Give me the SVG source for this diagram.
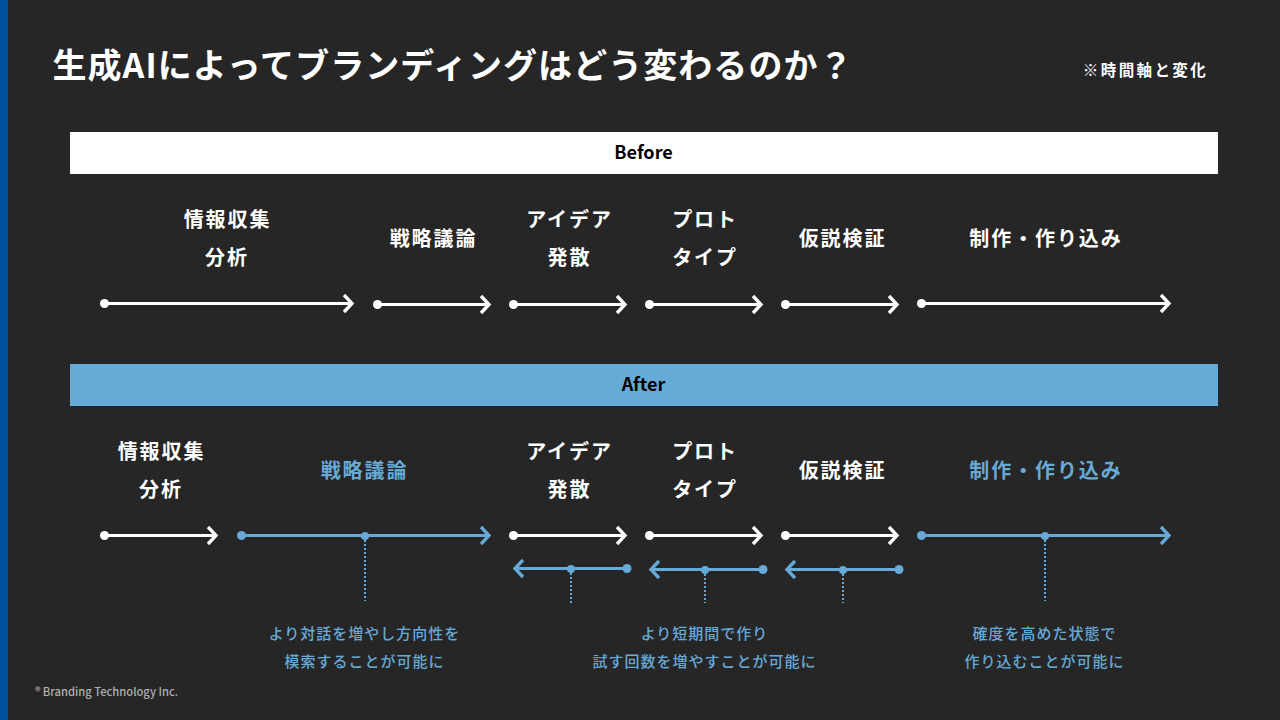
<svg xmlns="http://www.w3.org/2000/svg" width="1280" height="720" viewBox="0 0 1280 720">
<style>
text{font-family:"Noto Sans CJK JP","Noto Sans",sans-serif;text-anchor:middle;dominant-baseline:central}
.t{fill:#fff;font-size:20px;font-weight:700;letter-spacing:1.9px}
.t.b{fill:#66aad8}
.s{fill:#66aad8;font-size:15px;font-weight:500;letter-spacing:1px}
.h{font-size:18px;font-weight:700;fill:#000}
.w{fill:none;stroke:#fff;stroke-width:3;marker-start:url(#dw);marker-end:url(#aw)}
.l{fill:none;stroke:#66aad8;stroke-width:3;marker-start:url(#dl);marker-end:url(#al)}
.d{fill:none;stroke:#66aad8;stroke-width:2;stroke-dasharray:2 2}
.m{fill:#66aad8}
</style>
<defs>
<marker id="dw" markerUnits="userSpaceOnUse" markerWidth="12" markerHeight="12" refX="6" refY="6"><circle cx="6" cy="6" r="4.500" fill="#fff"/></marker>
<marker id="dl" markerUnits="userSpaceOnUse" markerWidth="12" markerHeight="12" refX="6" refY="6"><circle cx="6" cy="6" r="4.500" fill="#66aad8"/></marker>
<marker id="aw" markerUnits="userSpaceOnUse" markerWidth="20" markerHeight="24" refX="14" refY="12" orient="auto"><path d="M6 3.500L14 12L6 20.500" fill="none" stroke="#fff" stroke-width="3.300"/></marker>
<marker id="al" markerUnits="userSpaceOnUse" markerWidth="20" markerHeight="24" refX="14" refY="12" orient="auto"><path d="M6 3.500L14 12L6 20.500" fill="none" stroke="#66aad8" stroke-width="3.300"/></marker>
</defs>
<rect width="1280" height="720" fill="#262626"/>
<rect width="8" height="720" fill="#0050a0"/>
<g id="title"><text x="453" y="63.500" style="font-size:34px;font-weight:700;letter-spacing:1.05px" fill="#fff">生成AIによってブランディングはどう変わるのか？</text>
<text x="1145.500" y="69" style="font-size:15.500px;font-weight:700;letter-spacing:2.400px" fill="#fff">※時間軸と変化</text></g>
<g id="before-bar"><rect x="70" y="132" width="1148" height="42" fill="#fff"/><text class="h" x="643.500" y="151">Before</text></g>
<g id="after-bar"><rect x="70" y="364" width="1148" height="42" fill="#66aad8"/><text class="h" x="643.500" y="383">After</text></g>
<g id="before-labels">
<text class="t" x="227.500" y="218">情報収集</text><text class="t" x="227" y="256">分析</text>
<text class="t" x="433.500" y="237">戦略議論</text>
<text class="t" x="569.500" y="218">アイデア</text><text class="t" x="569.500" y="256">発散</text>
<text class="t" x="705" y="218">プロト</text><text class="t" x="705" y="256">タイプ</text>
<text class="t" x="842.500" y="237">仮説検証</text>
<text class="t" x="1046" y="237">制作・作り込み</text>
</g>
<g id="after-labels">
<text class="t" x="161.500" y="450">情報収集</text><text class="t" x="161" y="488">分析</text>
<text class="t b" x="364.500" y="469">戦略議論</text>
<text class="t" x="569.500" y="450">アイデア</text><text class="t" x="569.500" y="488">発散</text>
<text class="t" x="705" y="450">プロト</text><text class="t" x="705" y="488">タイプ</text>
<text class="t" x="842.500" y="469">仮説検証</text>
<text class="t b" x="1046" y="469">制作・作り込み</text>
</g>
<g id="notes">
<text class="s" x="364.500" y="632">より対話を増やし方向性を</text><text class="s" x="364.500" y="660">模索することが可能に</text>
<text class="s" x="704.500" y="632">より短期間で作り</text><text class="s" x="704.500" y="660">試す回数を増やすことが可能に</text>
<text class="s" x="1044.500" y="632">確度を高めた状態で</text><text class="s" x="1044.500" y="660">作り込むことが可能に</text>
</g>
<g id="connectors">
<path class="w" d="M104.500 303.500H352"/><path class="w" d="M377.500 304.500H489"/><path class="w" d="M513.500 304.500H625"/><path class="w" d="M649.500 304.500H761"/><path class="w" d="M785.500 304.500H897"/><path class="w" d="M921.500 303.500H1169"/>
<path class="w" d="M104.500 535.500H216"/><path class="l" d="M241.500 535.500H489"/><path class="w" d="M513.500 535.500H625"/><path class="w" d="M649.500 535.500H761"/><path class="w" d="M785.500 535.500H897"/><path class="l" d="M921.500 535.500H1169"/>
<path class="l" d="M627 568.500H515"/><path class="l" d="M763 569.500H651"/><path class="l" d="M899 569.500H787"/>
<path class="d" d="M365 536V601"/><path class="d" d="M571 569V603"/><path class="d" d="M705 570V603"/><path class="d" d="M843 570V603"/><path class="d" d="M1045 536V601"/>
<circle class="m" cx="365" cy="536" r="4"/><circle class="m" cx="571" cy="569" r="4"/><circle class="m" cx="705" cy="570" r="4"/><circle class="m" cx="843" cy="570" r="4"/><circle class="m" cx="1045" cy="536" r="4"/>
</g>
<text id="credit" x="106.500" y="691" style="font-size:11.200px;font-weight:500;fill:#b0b0b0">® Branding Technology Inc.</text>
</svg>
